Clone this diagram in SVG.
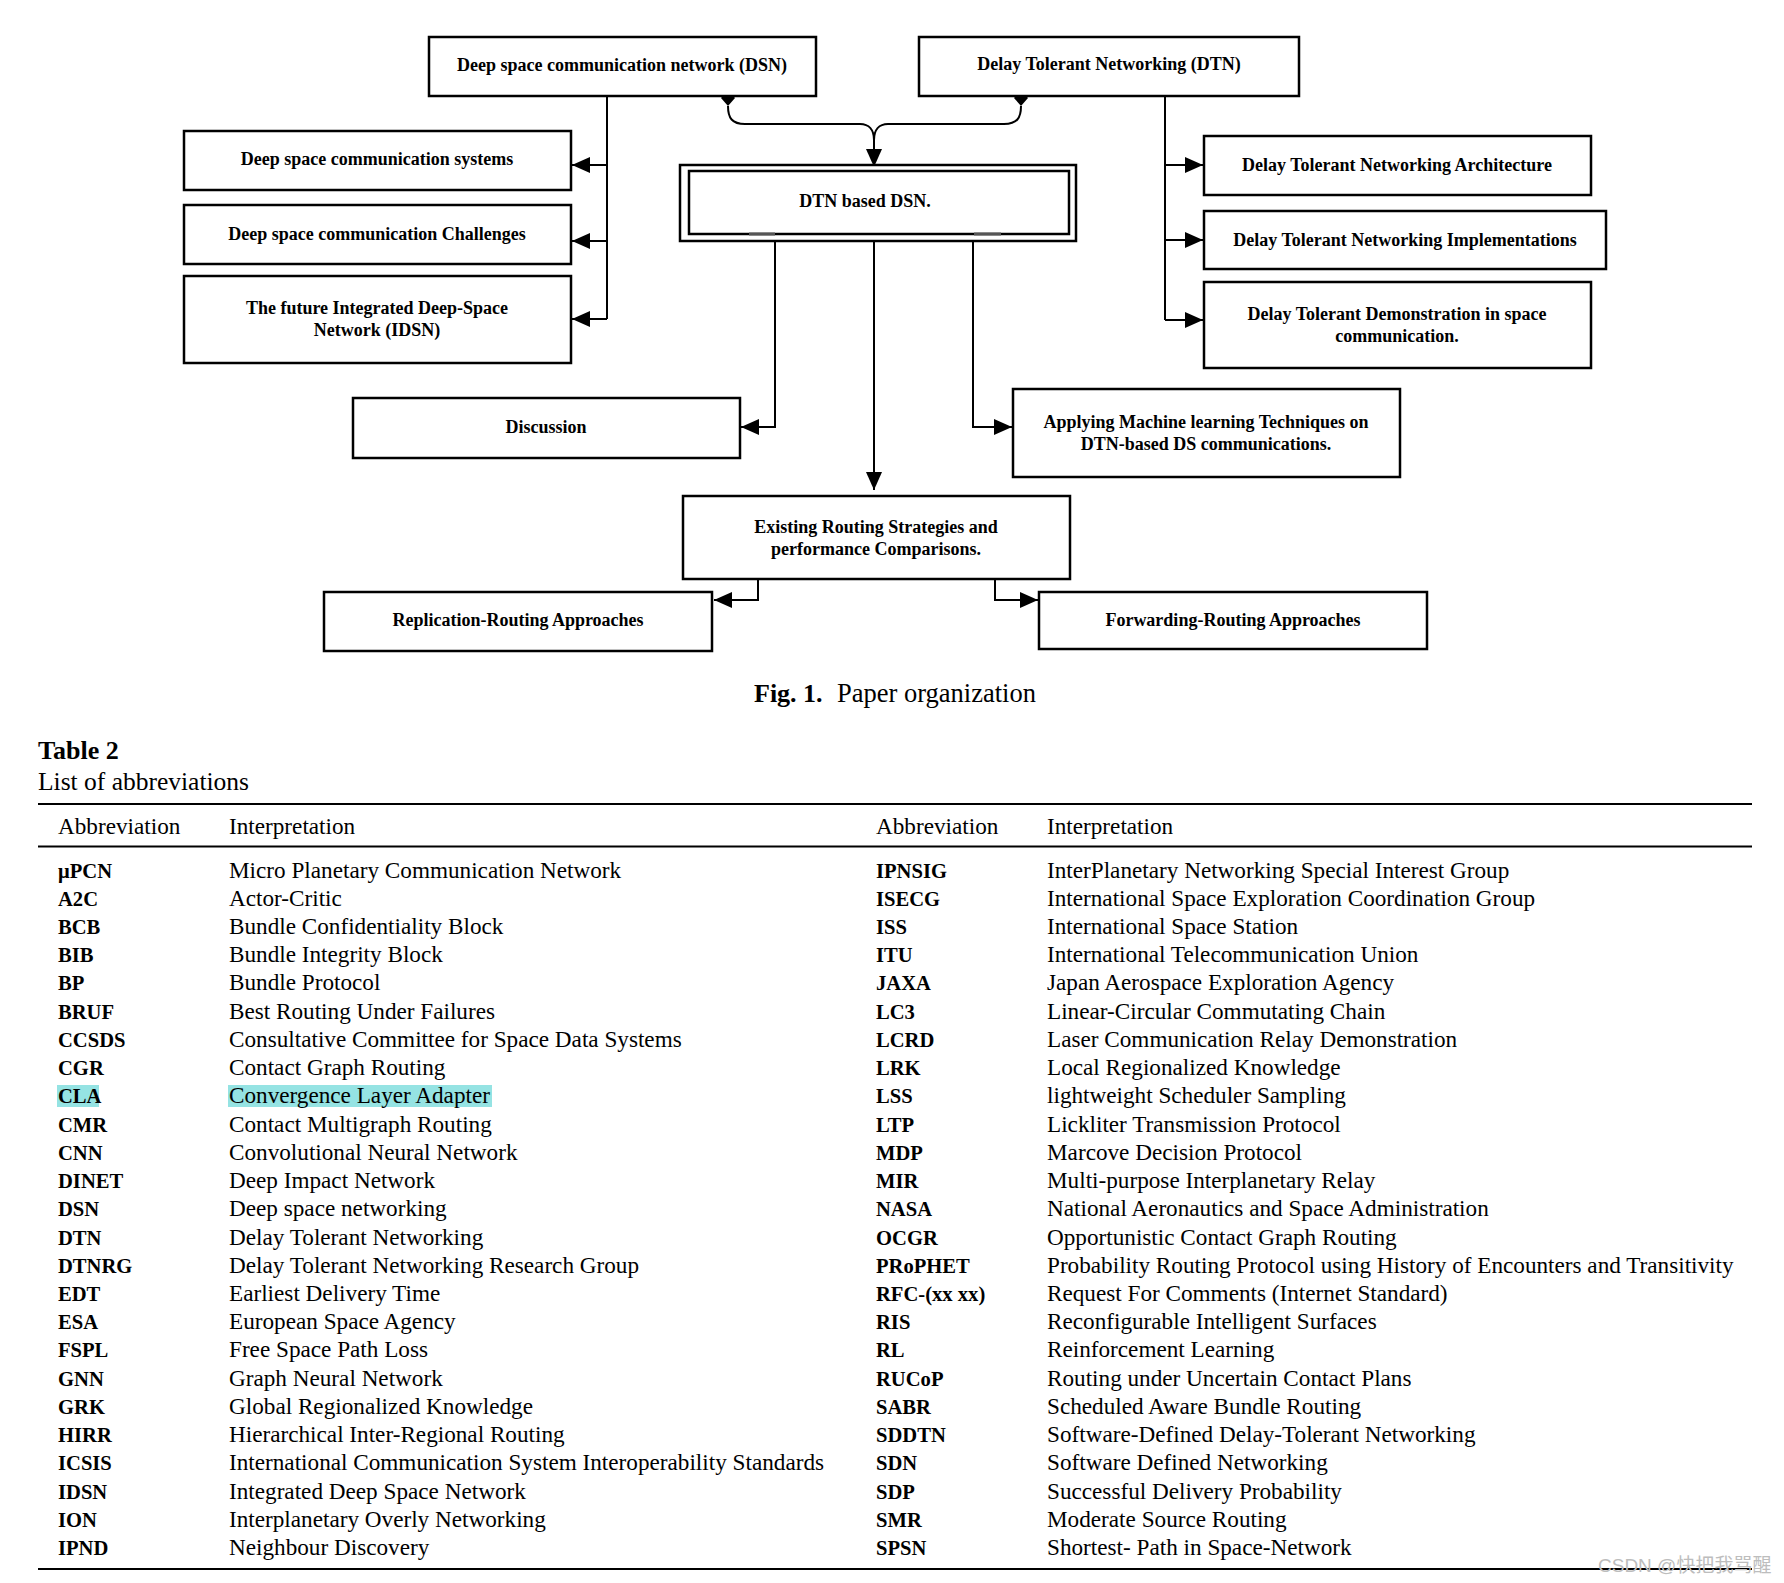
<svg xmlns="http://www.w3.org/2000/svg" width="1784" height="1583" viewBox="0 0 1784 1583">
<style>
.box{fill:#fff;stroke:#000;stroke-width:2.5}
.lbl{font-family:"Liberation Serif","Times New Roman",serif;font-weight:bold;font-size:18px;fill:#000;text-anchor:middle}
.con{fill:none;stroke:#000;stroke-width:2}
.arr{marker-end:url(#ah)}
.tb{font-family:"Liberation Serif","Times New Roman",serif;fill:#000}
.ab{font-weight:bold;font-size:20.6px}
.it{font-size:23.2px}
.rule{stroke:#000;stroke-width:2}
</style>
<defs>
<marker id="ah" markerUnits="userSpaceOnUse" viewBox="0 0 18 16" markerWidth="18" markerHeight="16" refX="18" refY="8" orient="auto">
<path d="M0,0 L18,8 L0,16 z" fill="#000"/>
</marker>
</defs>
<rect width="1784" height="1583" fill="#fff"/>

<g id="connectors">
<path class="con" d="M607,96 V319"/>
<path class="con arr" d="M607,165 H572"/>
<path class="con arr" d="M607,241 H572"/>
<path class="con arr" d="M607,319 H572"/>
<path class="con" d="M1165,96 V320"/>
<path class="con arr" d="M1165,165 H1203"/>
<path class="con arr" d="M1165,240 H1203"/>
<path class="con arr" d="M1165,320 H1203"/>
<path class="con" d="M728,106 C728,118 732,124 745,124 L860,124 C869,124 874,130 874,140"/>
<path class="con" d="M1021,106 C1021,118 1017,124 1004,124 L888,124 C879,124 874,130 874,140"/>
<path class="con arr" d="M874,139 V167"/>
<path d="M728,90 L735,98 L728,106 L721,98 Z" fill="#000"/>
<path d="M1021,90 L1028,98 L1021,106 L1014,98 Z" fill="#000"/>
<path class="con arr" d="M775,234 V427 H741"/>
<path class="con arr" d="M874,234 V490"/>
<path class="con arr" d="M973,234 V427 H1012"/>
<path class="con arr" d="M758,579 V600 H714"/>
<path class="con arr" d="M995,579 V600 H1038"/>
</g>

<g id="n-dsn"><rect class="box" x="429" y="37" width="387" height="59"/><text class="lbl" x="622" y="71">Deep space communication network (DSN)</text></g>
<g id="n-dtn"><rect class="box" x="919" y="37" width="380" height="59"/><text class="lbl" x="1109" y="70">Delay Tolerant Networking (DTN)</text></g>
<g id="n-sys"><rect class="box" x="184" y="131" width="387" height="59"/><text class="lbl" x="377" y="165">Deep space communication systems</text></g>
<g id="n-chal"><rect class="box" x="184" y="205" width="387" height="59"/><text class="lbl" x="377" y="240">Deep space communication Challenges</text></g>
<g id="n-idsn"><rect class="box" x="184" y="276" width="387" height="87"/><text class="lbl" x="377" y="314">The future Integrated Deep-Space</text><text class="lbl" x="377" y="336">Network (IDSN)</text></g>
<g id="n-dtndsn"><rect class="box" x="680" y="165" width="396" height="76"/><rect class="box" x="689" y="171" width="380" height="63"/><text class="lbl" x="865" y="207">DTN based DSN.</text>
<path d="M749,234 H775 M974,234 H1001" stroke="#555" stroke-width="3"/></g>
<g id="n-arch"><rect class="box" x="1204" y="136" width="387" height="59"/><text class="lbl" x="1397" y="171">Delay Tolerant Networking Architecture</text></g>
<g id="n-impl"><rect class="box" x="1204" y="211" width="402" height="58"/><text class="lbl" x="1405" y="246">Delay Tolerant Networking Implementations</text></g>
<g id="n-demo"><rect class="box" x="1204" y="282" width="387" height="86"/><text class="lbl" x="1397" y="320">Delay Tolerant Demonstration in space</text><text class="lbl" x="1397" y="342">communication.</text></g>
<g id="n-disc"><rect class="box" x="353" y="398" width="387" height="60"/><text class="lbl" x="546" y="433">Discussion</text></g>
<g id="n-ml"><rect class="box" x="1013" y="389" width="387" height="88"/><text class="lbl" x="1206" y="428">Applying Machine learning Techniques on</text><text class="lbl" x="1206" y="450">DTN-based DS communications.</text></g>
<g id="n-exist"><rect class="box" x="683" y="496" width="387" height="83"/><text class="lbl" x="876" y="533">Existing Routing Strategies and</text><text class="lbl" x="876" y="555">performance Comparisons.</text></g>
<g id="n-repl"><rect class="box" x="324" y="592" width="388" height="59"/><text class="lbl" x="518" y="626">Replication-Routing Approaches</text></g>
<g id="n-fwd"><rect class="box" x="1039" y="592" width="388" height="57"/><text class="lbl" x="1233" y="626">Forwarding-Routing Approaches</text></g>

<g id="caption" class="tb">
<text x="754" y="702" font-size="26px" font-weight="bold">Fig. 1.</text>
<text x="837" y="702" font-size="26.5px">Paper organization</text>
</g>

<g id="table" class="tb">
<text x="38" y="759" font-size="26px" font-weight="bold">Table 2</text>
<text x="38" y="790" font-size="25.5px">List of abbreviations</text>
<line class="rule" x1="38" y1="804" x2="1752" y2="804"/>
<g class="it">
<text x="58" y="834">Abbreviation</text><text x="229" y="834">Interpretation</text>
<text x="876" y="834">Abbreviation</text><text x="1047" y="834">Interpretation</text>
</g>
<line class="rule" x1="38" y1="846.5" x2="1752" y2="846.5"/>
<rect x="57" y="1085" width="42" height="22" fill="#95e3e3"/>
<rect x="228" y="1085" width="264" height="22" fill="#95e3e3"/>
<g class="ab">
<text x="58" y="877.5">μPCN</text>
<text x="58" y="905.7">A2C</text>
<text x="58" y="934">BCB</text>
<text x="58" y="962.2">BIB</text>
<text x="58" y="990.4">BP</text>
<text x="58" y="1018.7">BRUF</text>
<text x="58" y="1046.9">CCSDS</text>
<text x="58" y="1075.1">CGR</text>
<text x="58" y="1103.3">CLA</text>
<text x="58" y="1131.6">CMR</text>
<text x="58" y="1159.8">CNN</text>
<text x="58" y="1188">DINET</text>
<text x="58" y="1216.3">DSN</text>
<text x="58" y="1244.5">DTN</text>
<text x="58" y="1272.7">DTNRG</text>
<text x="58" y="1300.9">EDT</text>
<text x="58" y="1329.2">ESA</text>
<text x="58" y="1357.4">FSPL</text>
<text x="58" y="1385.6">GNN</text>
<text x="58" y="1413.9">GRK</text>
<text x="58" y="1442.1">HIRR</text>
<text x="58" y="1470.3">ICSIS</text>
<text x="58" y="1498.6">IDSN</text>
<text x="58" y="1526.8">ION</text>
<text x="58" y="1555">IPND</text>
<text x="876" y="877.5">IPNSIG</text>
<text x="876" y="905.7">ISECG</text>
<text x="876" y="934">ISS</text>
<text x="876" y="962.2">ITU</text>
<text x="876" y="990.4">JAXA</text>
<text x="876" y="1018.7">LC3</text>
<text x="876" y="1046.9">LCRD</text>
<text x="876" y="1075.1">LRK</text>
<text x="876" y="1103.3">LSS</text>
<text x="876" y="1131.6">LTP</text>
<text x="876" y="1159.8">MDP</text>
<text x="876" y="1188">MIR</text>
<text x="876" y="1216.3">NASA</text>
<text x="876" y="1244.5">OCGR</text>
<text x="876" y="1272.7">PRoPHET</text>
<text x="876" y="1300.9">RFC-(xx xx)</text>
<text x="876" y="1329.2">RIS</text>
<text x="876" y="1357.4">RL</text>
<text x="876" y="1385.6">RUCoP</text>
<text x="876" y="1413.9">SABR</text>
<text x="876" y="1442.1">SDDTN</text>
<text x="876" y="1470.3">SDN</text>
<text x="876" y="1498.6">SDP</text>
<text x="876" y="1526.8">SMR</text>
<text x="876" y="1555">SPSN</text>
</g>
<g class="it">
<text x="229" y="877.5">Micro Planetary Communication Network</text>
<text x="229" y="905.7">Actor-Critic</text>
<text x="229" y="934">Bundle Confidentiality Block</text>
<text x="229" y="962.2">Bundle Integrity Block</text>
<text x="229" y="990.4">Bundle Protocol</text>
<text x="229" y="1018.7">Best Routing Under Failures</text>
<text x="229" y="1046.9">Consultative Committee for Space Data Systems</text>
<text x="229" y="1075.1">Contact Graph Routing</text>
<text x="229" y="1103.3">Convergence Layer Adapter</text>
<text x="229" y="1131.6">Contact Multigraph Routing</text>
<text x="229" y="1159.8">Convolutional Neural Network</text>
<text x="229" y="1188">Deep Impact Network</text>
<text x="229" y="1216.3">Deep space networking</text>
<text x="229" y="1244.5">Delay Tolerant Networking</text>
<text x="229" y="1272.7">Delay Tolerant Networking Research Group</text>
<text x="229" y="1300.9">Earliest Delivery Time</text>
<text x="229" y="1329.2">European Space Agency</text>
<text x="229" y="1357.4">Free Space Path Loss</text>
<text x="229" y="1385.6">Graph Neural Network</text>
<text x="229" y="1413.9">Global Regionalized Knowledge</text>
<text x="229" y="1442.1">Hierarchical Inter-Regional Routing</text>
<text x="229" y="1470.3">International Communication System Interoperability Standards</text>
<text x="229" y="1498.6">Integrated Deep Space Network</text>
<text x="229" y="1526.8">Interplanetary Overly Networking</text>
<text x="229" y="1555">Neighbour Discovery</text>
<text x="1047" y="877.5">InterPlanetary Networking Special Interest Group</text>
<text x="1047" y="905.7">International Space Exploration Coordination Group</text>
<text x="1047" y="934">International Space Station</text>
<text x="1047" y="962.2">International Telecommunication Union</text>
<text x="1047" y="990.4">Japan Aerospace Exploration Agency</text>
<text x="1047" y="1018.7">Linear-Circular Commutating Chain</text>
<text x="1047" y="1046.9">Laser Communication Relay Demonstration</text>
<text x="1047" y="1075.1">Local Regionalized Knowledge</text>
<text x="1047" y="1103.3">lightweight Scheduler Sampling</text>
<text x="1047" y="1131.6">Lickliter Transmission Protocol</text>
<text x="1047" y="1159.8">Marcove Decision Protocol</text>
<text x="1047" y="1188">Multi-purpose Interplanetary Relay</text>
<text x="1047" y="1216.3">National Aeronautics and Space Administration</text>
<text x="1047" y="1244.5">Opportunistic Contact Graph Routing</text>
<text x="1047" y="1272.7">Probability Routing Protocol using History of Encounters and Transitivity</text>
<text x="1047" y="1300.9">Request For Comments (Internet Standard)</text>
<text x="1047" y="1329.2">Reconfigurable Intelligent Surfaces</text>
<text x="1047" y="1357.4">Reinforcement Learning</text>
<text x="1047" y="1385.6">Routing under Uncertain Contact Plans</text>
<text x="1047" y="1413.9">Scheduled Aware Bundle Routing</text>
<text x="1047" y="1442.1">Software-Defined Delay-Tolerant Networking</text>
<text x="1047" y="1470.3">Software Defined Networking</text>
<text x="1047" y="1498.6">Successful Delivery Probability</text>
<text x="1047" y="1526.8">Moderate Source Routing</text>
<text x="1047" y="1555">Shortest- Path in Space-Network</text>
</g>
<line class="rule" x1="38" y1="1569" x2="1752" y2="1569" stroke-width="1.5"/>
</g>
<text id="watermark" x="1598" y="1572" font-family="'Liberation Sans','Noto Sans CJK SC',sans-serif" font-size="19px" fill="#bdbdbd">CSDN @快把我骂醒</text>
</svg>
